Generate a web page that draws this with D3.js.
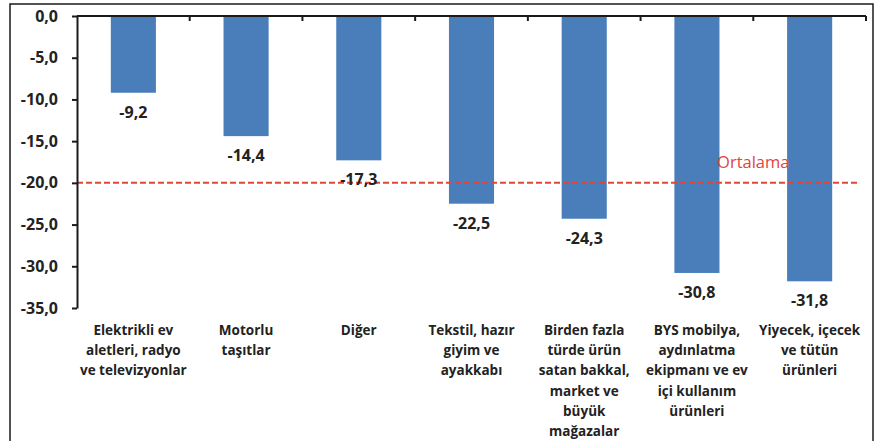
<!DOCTYPE html>
<html>
<head>
<meta charset="utf-8">
<script src="https://cdn.jsdelivr.net/npm/d3@7"></script>
<style>
  html, body { margin: 0; padding: 0; background: #fff; }
  svg { display: block; }
  text { font-family: "Open Sans", "DejaVu Sans", sans-serif; fill: #222; }
</style>
</head>
<body>
<svg id="chart" width="880" height="441"></svg>
<script>
// ---- data ----
const categories = [
  "Elektrikli ev aletleri, radyo ve televizyonlar",
  "Motorlu taşıtlar",
  "Diğer",
  "Tekstil, hazır giyim ve ayakkabı",
  "Birden fazla türde ürün satan bakkal, market ve büyük mağazalar",
  "BYS mobilya, aydınlatma ekipmanı ve ev içi kullanım ürünleri",
  "Yiyecek, içecek ve tütün ürünleri"
];
const categoryLines = [
  ["Elektrikli ev", "aletleri, radyo", "ve televizyonlar"],
  ["Motorlu", "taşıtlar"],
  ["Diğer"],
  ["Tekstil, hazır", "giyim ve", "ayakkabı"],
  ["Birden fazla", "türde ürün", "satan bakkal,", "market ve", "büyük", "mağazalar"],
  ["BYS mobilya,", "aydınlatma", "ekipmanı ve ev", "içi kullanım", "ürünleri"],
  ["Yiyecek, içecek", "ve tütün", "ürünleri"]
];
const values = [-9.2, -14.4, -17.3, -22.5, -24.3, -30.8, -31.8];
const averageValue = -20;
const averageLabel = "Ortalama";
const yTicks = [0, -5, -10, -15, -20, -25, -30, -35];

// ---- setup ----
const svg = d3.select("#chart");
const locale = d3.formatLocale({decimal: ",", thousands: ".", grouping: [3], currency: ["", ""], minus: "-"});
const fmt = locale.format(".1f");

const x = d3.scaleBand().domain(categories).range([77, 866]).paddingInner(0.6).paddingOuter(0.3);
const y = d3.scaleLinear().domain([0, -35]).range([16, 308]);

// outer frame
svg.append("rect")
  .attr("x", 10).attr("y", 4).attr("width", 863).attr("height", 460)
  .attr("fill", "none").attr("stroke", "#1a1a1a").attr("stroke-width", 1.5);

// bars
svg.append("g").selectAll("rect")
  .data(values)
  .join("rect")
  .attr("x", (d, i) => x(categories[i]))
  .attr("y", y(0))
  .attr("width", x.bandwidth())
  .attr("height", d => y(d) - y(0))
  .attr("fill", "#4a7ebb");

// average line
svg.append("line")
  .attr("x1", x.range()[0]).attr("x2", 860)
  .attr("y1", y(averageValue)).attr("y2", y(averageValue))
  .attr("stroke", "#e0453a").attr("stroke-width", 2)
  .attr("stroke-dasharray", "6,3");

// y axis
const yAxis = d3.axisLeft(y).tickValues(yTicks).tickSize(5).tickSizeOuter(0).tickPadding(14)
  .tickFormat(d => fmt(d));
const gy = svg.append("g").attr("transform", `translate(${x.range()[0]},0)`).call(yAxis);
gy.select(".domain").attr("stroke", "#1a1a1a").attr("stroke-width", 2);
gy.selectAll(".tick line").attr("stroke", "#1a1a1a").attr("stroke-width", 2);
gy.selectAll(".tick text")
  .attr("font-family", "'Open Sans', sans-serif")
  .attr("font-size", 16).attr("font-weight", "bold").attr("fill", "#222");

// x axis line at zero with boundary ticks
const step = x.step();
svg.append("line")
  .attr("x1", x.range()[0]).attr("x2", x.range()[1])
  .attr("y1", y(0)).attr("y2", y(0))
  .attr("stroke", "#1a1a1a").attr("stroke-width", 2);
svg.append("g").selectAll("line")
  .data(categories)
  .join("line")
  .attr("x1", d => x(d) + x.bandwidth() / 2 + step / 2)
  .attr("x2", d => x(d) + x.bandwidth() / 2 + step / 2)
  .attr("y1", y(0)).attr("y2", y(0) + 5)
  .attr("stroke", "#1a1a1a").attr("stroke-width", 2);

// data labels
svg.append("g").selectAll("text")
  .data(values)
  .join("text")
  .attr("x", (d, i) => x(categories[i]) + x.bandwidth() / 2)
  .attr("y", d => y(d) + 25)
  .attr("text-anchor", "middle")
  .attr("font-size", 16).attr("font-weight", "bold")
  .text(d => fmt(d));

// average label
svg.append("text")
  .attr("x", x(categories[5]) + x.bandwidth() / 2 + step / 2)
  .attr("y", y(averageValue) - 15)
  .attr("text-anchor", "middle")
  .attr("font-size", 16.5)
  .style("fill", "#e0453a")
  .text(averageLabel);

// category labels
const catG = svg.append("g");
categoryLines.forEach((lines, i) => {
  const t = catG.append("text")
    .attr("x", x(categories[i]) + x.bandwidth() / 2)
    .attr("y", 335)
    .attr("text-anchor", "middle")
    .attr("font-size", 13.5).attr("font-weight", "bold");
  lines.forEach((ln, j) => {
    t.append("tspan")
      .attr("x", x(categories[i]) + x.bandwidth() / 2)
      .attr("dy", j === 0 ? 0 : 20.2)
      .text(ln);
  });
});
</script>
</body>
</html>
